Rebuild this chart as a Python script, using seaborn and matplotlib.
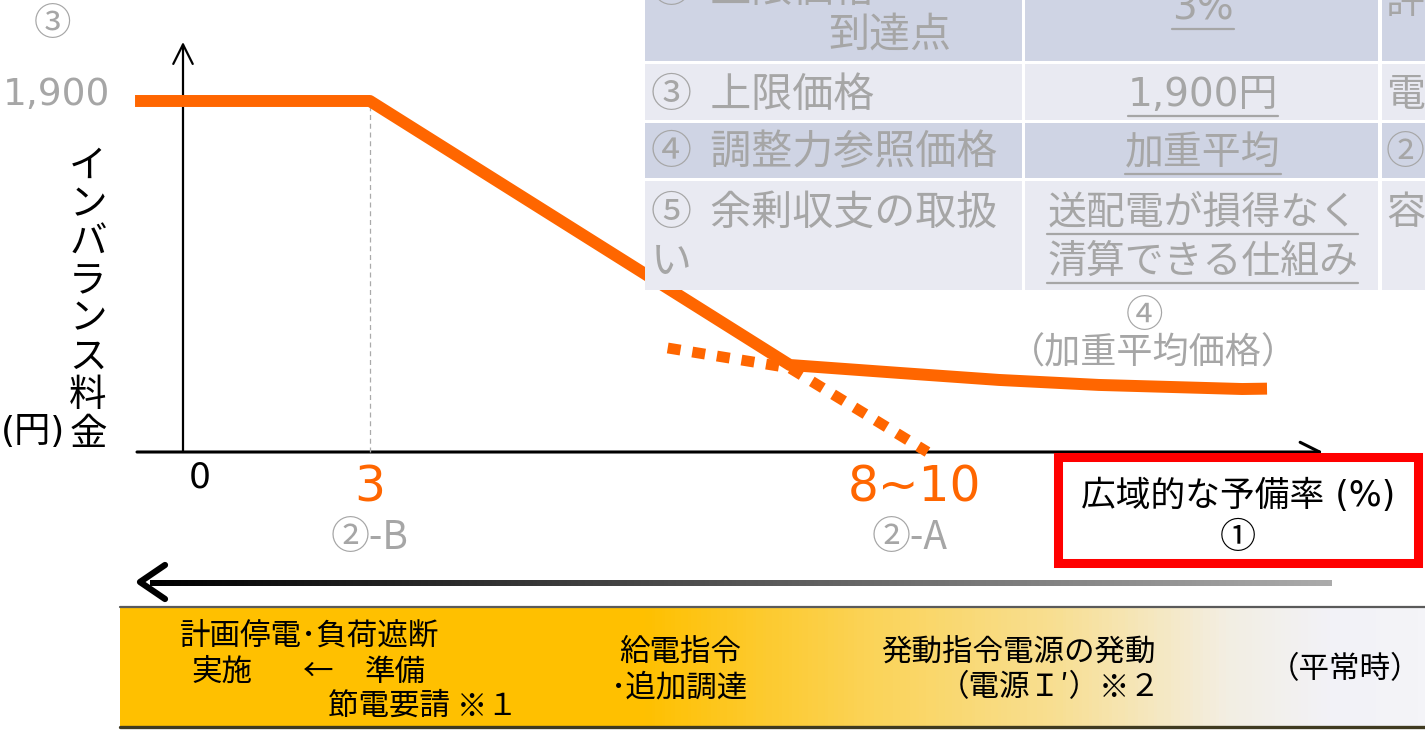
import numpy as np
import matplotlib
matplotlib.use("Agg")
import matplotlib.pyplot as plt
from matplotlib.patches import Rectangle
from matplotlib.colors import LinearSegmentedColormap
import seaborn as sns

sns.set_theme(style="white")
plt.rcParams["font.family"] = ["Noto Sans CJK JP", "DejaVu Sans"]
# wide Latin digits (closer to Meiryo), Japanese falls back to Noto CJK
LATIN = ["DejaVu Sans", "Noto Sans CJK JP"]

# imbalance price curve: wide-area reserve rate (%) -> price (yen)
solid_rate = [-0.77, 3.0, 9.74, 11.5, 13.1, 14.7, 17.0, 17.4]
solid_price = [1900, 1900, 471, 428, 390, 363, 341, 343]
dotted_rate = [7.78, 9.74, 11.95]
dotted_price = [563, 455, 0]

# labels
x_labels = ["0", "3", "8~10"]
x_sublabels = ["②-B", "②-A"]
y_label = "インバランス料金"
cap_label = "1,900"

# table in the upper right
table_item = [["②  上限価格", "到達点"], ["③  上限価格"], ["④  調整力参照価格"], ["⑤  余剰収支の取扱", "い"]]
table_value = [["3%"], ["1,900円"], ["加重平均"], ["送配電が損得なく", "清算できる仕組み"]]
table_note = ["評", "電", "②", "容"]

# bottom band
band_texts = ["計画停電･負荷遮断", "実施", "←", "準備", "節電要請 ※１",
              "給電指令", "･追加調達", "発動指令電源の発動", "（電源Ｉ′）※２", "（平常時）"]

ORANGE = "#ff6600"
GRAY = "#a6a6a6"
W, H = 1425, 731

fig = plt.figure(figsize=(W / 100, H / 100), dpi=100, facecolor="white")

# data axes: origin at pixel (183, 452)
OX, OY = 183, 452
PX_PER_PCT = 62.3
YEN_PER_PX = 5.413
ax = fig.add_axes([0, 0, 1, 1])
ax.set_xlim(-OX / PX_PER_PCT, (W - OX) / PX_PER_PCT)
ax.set_ylim(-(H - OY) * YEN_PER_PX, OY * YEN_PER_PX)
ax.axis("off")

# axes with arrows
arrow = dict(arrowstyle="->,head_length=1.0,head_width=0.5", mutation_scale=14,
             color="black", shrinkA=0, shrinkB=0)
ax.annotate("", xy=(0, (OY - 42) * YEN_PER_PX), xytext=(0, 0),
            arrowprops=dict(arrow, lw=1.6), zorder=1)
ax.annotate("", xy=((1323 - OX) / PX_PER_PCT, 0), xytext=((137 - OX) / PX_PER_PCT, 0),
            arrowprops=dict(arrow, lw=2.2), zorder=1)
ax.vlines(solid_rate[1], 0, solid_price[1], colors="#aaaaaa", linestyles=(0, (4, 3)),
          linewidth=0.9, zorder=1)

sns.lineplot(x=solid_rate, y=solid_price, ax=ax, color=ORANGE, linewidth=8.6,
             sort=False, estimator=None, solid_capstyle="butt", zorder=3)
sns.lineplot(x=dotted_rate, y=dotted_price, ax=ax, color=ORANGE, linewidth=7.8,
             sort=False, estimator=None, linestyle=(0, (1.2, 1.1)),
             dash_capstyle="butt", zorder=3)

# overlay in pixel coordinates
ov = fig.add_axes([0, 0, 1, 1], zorder=2)
ov.set_xlim(0, W)
ov.set_ylim(H, 0)
ov.axis("off")

ov.text(53, 25, "③", color=GRAY, fontsize=27, ha="center", va="center")
ov.text(110, 95, cap_label, color=GRAY, fontsize=27, ha="right", va="center", family=LATIN)
for i, ch in enumerate(y_label):
    ov.text(88, 166 + i * 38.3, ch, color="black", fontsize=27, ha="center", va="center")
ov.text(33, 432, "(円)", color="black", fontsize=26, ha="center", va="center", family=LATIN)

ov.text(200, 478, x_labels[0], color="black", fontsize=25, ha="center", va="center", family=LATIN)
ov.text(370, 488, x_labels[1], color=ORANGE, fontsize=35, ha="center", va="center", family=LATIN)
ov.text(915, 487, x_labels[2], color=ORANGE, fontsize=35, ha="center", va="center", family=LATIN)
ov.text(370, 538, x_sublabels[0], color=GRAY, fontsize=28, ha="center", va="center")
ov.text(910, 538, x_sublabels[1], color=GRAY, fontsize=28, ha="center", va="center")
ov.text(1145, 317, "④", color=GRAY, fontsize=27, ha="center", va="center")
ov.text(1153, 353, "（加重平均価格）", color=GRAY, fontsize=26, ha="center", va="center")

# table
col_x = [(645, 1022), (1025, 1378), (1382, 1440)]
row_y = [(-5, 61), (64, 120), (123, 178), (181, 290)]
row_color = ["#cfd4e4", "#e9eaf2", "#cfd4e4", "#e9eaf2"]
for (y0, y1), c in zip(row_y, row_color):
    for x0, x1 in col_x:
        ov.add_patch(Rectangle((x0, y0), x1 - x0, y1 - y0, facecolor=c, edgecolor="none"))

line_y = [[-10, 35], [95], [153], [213, 262]]
value_y = [[8], [95], [153], [213, 262]]
under = []
for r in range(4):
    for j, txt in enumerate(table_item[r]):
        if r == 0 and j == 1:
            ov.text(890, line_y[r][j], txt, color=GRAY, fontsize=29.5, ha="center", va="center")
        else:
            ov.text(651, line_y[r][j], txt, color=GRAY, fontsize=29.5, ha="left", va="center")
    for j, txt in enumerate(table_value[r]):
        t = ov.text(1203, value_y[r][j], txt, color=GRAY, fontsize=28, ha="center",
                    va="center", family=LATIN)
        under.append((t, value_y[r][j] + 21))
    ov.text(1386, line_y[r][0] if r else 2, table_note[r], color=GRAY, fontsize=28,
            ha="left", va="center")

fig.canvas.draw()
inv = ov.transData.inverted()
for t, yy in under:
    bb = t.get_window_extent()
    (xa, _), (xb, _) = inv.transform([(bb.x0, bb.y0), (bb.x1, bb.y1)])
    ov.plot([xa, xb], [yy, yy], color=GRAY, lw=1.6)

# red box around the x-axis title
ov.add_patch(Rectangle((1058, 457), 360, 106, facecolor="white", edgecolor="#ff0000", lw=6.5))
ov.text(1238, 496, "広域的な予備率 (%)", color="black", fontsize=25, ha="center", va="center",
        family=LATIN)
ov.text(1238, 538, "①", color="black", fontsize=26, ha="center", va="center")

# gradient arrow (black on the left fading to gray)
arrow_cmap = LinearSegmentedColormap.from_list("arr", ["#000000", "#ababab"])
ov.imshow(np.linspace(0, 1, 400)[None, :], cmap=arrow_cmap, aspect="auto",
          extent=(150, 1332, 586, 580), zorder=1)
ov.plot([165, 140, 165], [565, 582, 599], color="black", lw=4.5,
        solid_capstyle="round", solid_joinstyle="round", zorder=2)

# bottom band with orange -> light gradient
band_cmap = LinearSegmentedColormap.from_list(
    "band", [(0, "#ffc000"), (0.40, "#ffc000"), (0.58, "#fbd45a"),
             (0.72, "#f8df93"), (0.85, "#f3eee2"), (0.93, "#f2f2f7"), (1, "#f4f4f8")])
ov.imshow(np.linspace(0, 1, 400)[None, :], cmap=band_cmap, aspect="auto",
          extent=(120, W, 727, 607), zorder=0)
ov.plot([120, W], [607, 607], color="#5a5a5a", lw=1.6)
ov.plot([120, W], [727, 727], color="#3f3a20", lw=2.4)
ov.set_xlim(0, W)
ov.set_ylim(H, 0)

band_pos = [(310, 636, "center"), (222, 672, "center"), (318, 672, "center"),
            (395, 672, "center"), (328, 706, "left"), (680, 652, "center"),
            (680, 688, "center"), (1018, 652, "center"), (1050, 688, "center"),
            (1345, 670, "center")]
for txt, (x, y, ha) in zip(band_texts, band_pos):
    ov.text(x, y, txt, color="black", fontsize=22, ha=ha, va="center")

fig.savefig("out.png", dpi=100, facecolor="white")
